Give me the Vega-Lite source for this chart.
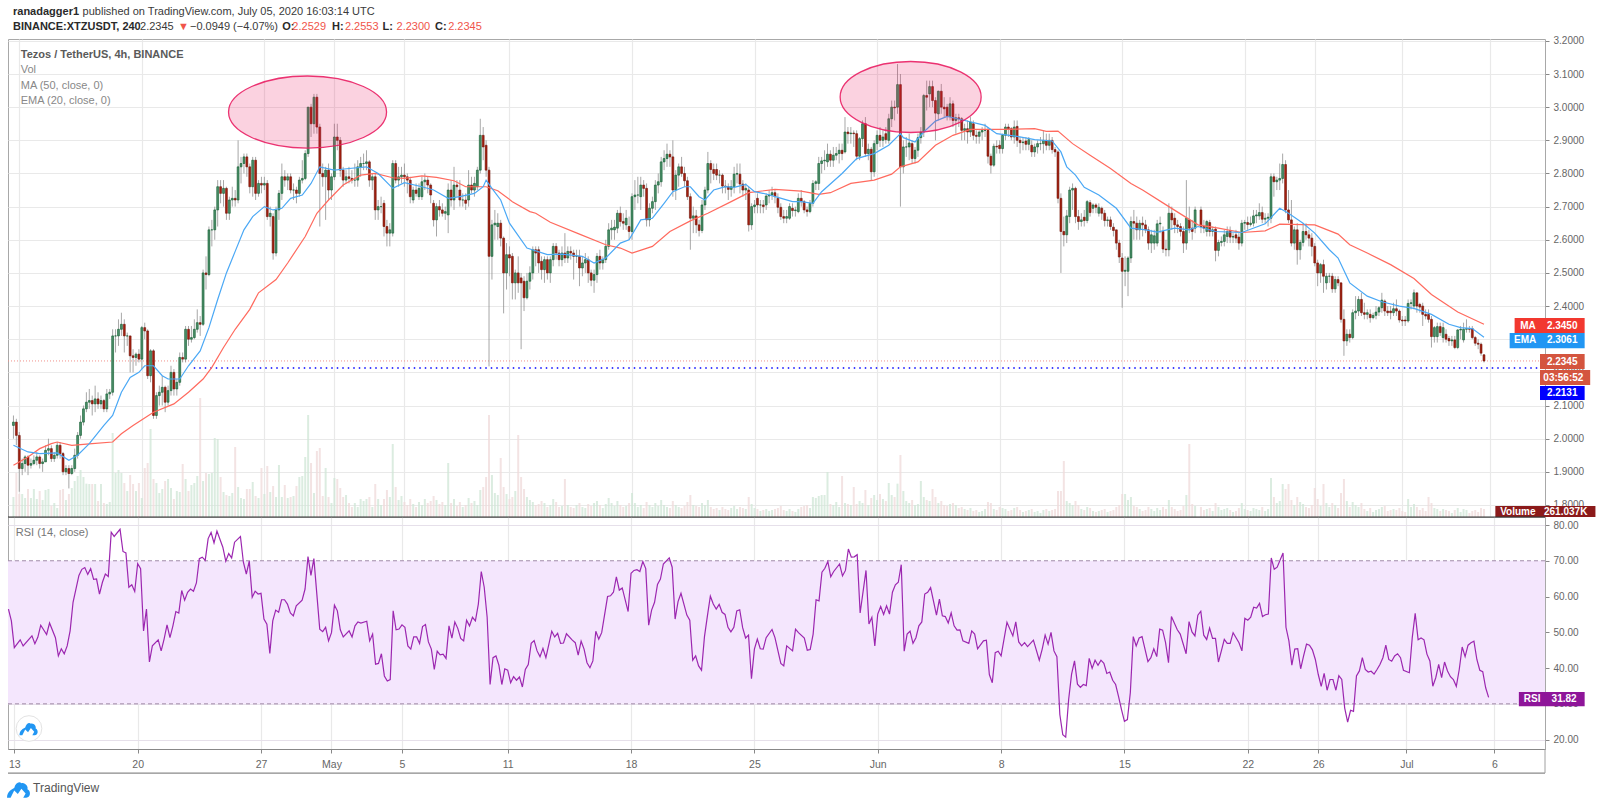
{"$schema":"https://vega.github.io/schema/vega-lite/v6.json","background":"white","padding":{"left":5,"top":5,"right":0,"bottom":0},"bounds":"flush","spacing":0,"config":{"font":"Liberation Sans","view":{"stroke":"#a8a8a8"}},
"datasets":{
"c":[
{"n":-2,"o":2.04,"h":2.07,"l":2.0,"c":2.05,"v":600},{"n":-1,"o":2.05,"h":2.06,"l":1.98,"c":2.01,"v":1320},{"n":0,"o":2.01,"h":2.02,"l":1.84,"c":1.91,"v":690},{"n":1,"o":1.91,"h":1.94,"l":1.89,"c":1.925,"v":690},{"n":2,"o":1.925,"h":1.95,"l":1.9,"c":1.945,"v":570},{"n":3,"o":1.945,"h":1.95,"l":1.89,"c":1.92,"v":840},{"n":4,"o":1.92,"h":1.94,"l":1.91,"c":1.925,"v":570},{"n":5,"o":1.925,"h":1.95,"l":1.92,"c":1.935,"v":840},{"n":6,"o":1.935,"h":1.96,"l":1.92,"c":1.945,"v":540},{"n":7,"o":1.945,"h":1.95,"l":1.91,"c":1.925,"v":780},{"n":8,"o":1.925,"h":1.94,"l":1.9,"c":1.93,"v":510},{"n":9,"o":1.93,"h":1.98,"l":1.93,"c":1.965,"v":810},{"n":10,"o":1.965,"h":2.0,"l":1.95,"c":1.97,"v":840},{"n":11,"o":1.97,"h":1.98,"l":1.93,"c":1.94,"v":330},{"n":12,"o":1.94,"h":1.96,"l":1.93,"c":1.95,"v":420},{"n":13,"o":1.95,"h":1.99,"l":1.94,"c":1.98,"v":270},{"n":14,"o":1.98,"h":1.99,"l":1.94,"c":1.955,"v":810},{"n":15,"o":1.955,"h":1.96,"l":1.89,"c":1.9,"v":840},{"n":16,"o":1.9,"h":1.92,"l":1.89,"c":1.91,"v":510},{"n":17,"o":1.91,"h":1.92,"l":1.85,"c":1.895,"v":690},{"n":18,"o":1.895,"h":1.92,"l":1.89,"c":1.91,"v":870},{"n":19,"o":1.91,"h":1.97,"l":1.9,"c":1.95,"v":1080},{"n":20,"o":1.95,"h":2.02,"l":1.94,"c":2.01,"v":1230},{"n":21,"o":2.01,"h":2.07,"l":2.0,"c":2.05,"v":1410},{"n":22,"o":2.05,"h":2.1,"l":2.04,"c":2.09,"v":1200},{"n":23,"o":2.09,"h":2.14,"l":2.08,"c":2.11,"v":1000},{"n":24,"o":2.11,"h":2.15,"l":2.09,"c":2.115,"v":990},{"n":25,"o":2.115,"h":2.13,"l":2.07,"c":2.105,"v":990},{"n":26,"o":2.105,"h":2.16,"l":2.08,"c":2.12,"v":990},{"n":27,"o":2.12,"h":2.14,"l":2.09,"c":2.105,"v":480},{"n":28,"o":2.105,"h":2.13,"l":2.09,"c":2.115,"v":990},{"n":29,"o":2.115,"h":2.12,"l":2.08,"c":2.09,"v":420},{"n":30,"o":2.09,"h":2.15,"l":2.08,"c":2.135,"v":390},{"n":31,"o":2.135,"h":2.15,"l":2.12,"c":2.14,"v":450},{"n":32,"o":2.14,"h":2.33,"l":2.13,"c":2.31,"v":2520},{"n":33,"o":2.31,"h":2.33,"l":2.26,"c":2.31,"v":1320},{"n":34,"o":2.31,"h":2.36,"l":2.28,"c":2.33,"v":1410},{"n":35,"o":2.33,"h":2.38,"l":2.31,"c":2.345,"v":1320},{"n":36,"o":2.345,"h":2.36,"l":2.26,"c":2.31,"v":1020},{"n":37,"o":2.31,"h":2.32,"l":2.28,"c":2.31,"v":780},{"n":38,"o":2.31,"h":2.31,"l":2.2,"c":2.25,"v":1260},{"n":39,"o":2.25,"h":2.27,"l":2.2,"c":2.245,"v":990},{"n":40,"o":2.245,"h":2.26,"l":2.22,"c":2.255,"v":780},{"n":41,"o":2.255,"h":2.27,"l":2.23,"c":2.24,"v":1020},{"n":42,"o":2.24,"h":2.34,"l":2.21,"c":2.335,"v":570},{"n":43,"o":2.335,"h":2.35,"l":2.3,"c":2.325,"v":1470},{"n":44,"o":2.325,"h":2.33,"l":2.18,"c":2.19,"v":1620},{"n":45,"o":2.19,"h":2.27,"l":2.17,"c":2.265,"v":2640},{"n":46,"o":2.265,"h":2.27,"l":2.06,"c":2.07,"v":1140},{"n":47,"o":2.07,"h":2.14,"l":2.06,"c":2.13,"v":1020},{"n":48,"o":2.13,"h":2.16,"l":2.1,"c":2.14,"v":720},{"n":49,"o":2.14,"h":2.19,"l":2.1,"c":2.155,"v":840},{"n":50,"o":2.155,"h":2.16,"l":2.08,"c":2.11,"v":1080},{"n":51,"o":2.11,"h":2.16,"l":2.1,"c":2.145,"v":1140},{"n":52,"o":2.145,"h":2.22,"l":2.13,"c":2.2,"v":870},{"n":53,"o":2.2,"h":2.21,"l":2.13,"c":2.15,"v":540},{"n":54,"o":2.15,"h":2.18,"l":2.13,"c":2.17,"v":780},{"n":55,"o":2.17,"h":2.26,"l":2.16,"c":2.245,"v":750},{"n":56,"o":2.245,"h":2.26,"l":2.23,"c":2.24,"v":1590},{"n":57,"o":2.24,"h":2.34,"l":2.23,"c":2.33,"v":1140},{"n":58,"o":2.33,"h":2.34,"l":2.28,"c":2.3,"v":780},{"n":59,"o":2.3,"h":2.34,"l":2.29,"c":2.305,"v":960},{"n":60,"o":2.305,"h":2.36,"l":2.3,"c":2.33,"v":1020},{"n":61,"o":2.33,"h":2.39,"l":2.32,"c":2.35,"v":1230},{"n":62,"o":2.35,"h":2.37,"l":2.31,"c":2.345,"v":3570},{"n":63,"o":2.345,"h":2.51,"l":2.34,"c":2.5,"v":1080},{"n":64,"o":2.5,"h":2.55,"l":2.45,"c":2.495,"v":1320},{"n":65,"o":2.495,"h":2.64,"l":2.49,"c":2.63,"v":1290},{"n":66,"o":2.63,"h":2.66,"l":2.58,"c":2.63,"v":1320},{"n":67,"o":2.63,"h":2.7,"l":2.6,"c":2.69,"v":2370},{"n":68,"o":2.69,"h":2.78,"l":2.64,"c":2.76,"v":2340},{"n":69,"o":2.76,"h":2.78,"l":2.71,"c":2.74,"v":1200},{"n":70,"o":2.74,"h":2.78,"l":2.7,"c":2.755,"v":750},{"n":71,"o":2.755,"h":2.76,"l":2.66,"c":2.68,"v":660},{"n":72,"o":2.68,"h":2.73,"l":2.66,"c":2.72,"v":630},{"n":73,"o":2.72,"h":2.76,"l":2.7,"c":2.725,"v":720},{"n":74,"o":2.725,"h":2.75,"l":2.7,"c":2.72,"v":2100},{"n":75,"o":2.72,"h":2.9,"l":2.71,"c":2.82,"v":900},{"n":76,"o":2.82,"h":2.85,"l":2.77,"c":2.83,"v":570},{"n":77,"o":2.83,"h":2.86,"l":2.8,"c":2.85,"v":540},{"n":78,"o":2.85,"h":2.86,"l":2.79,"c":2.82,"v":840},{"n":79,"o":2.82,"h":2.83,"l":2.74,"c":2.76,"v":840},{"n":80,"o":2.76,"h":2.85,"l":2.73,"c":2.84,"v":1050},{"n":81,"o":2.84,"h":2.85,"l":2.72,"c":2.74,"v":630},{"n":82,"o":2.74,"h":2.78,"l":2.73,"c":2.77,"v":570},{"n":83,"o":2.77,"h":2.79,"l":2.74,"c":2.765,"v":1470},{"n":84,"o":2.765,"h":2.79,"l":2.75,"c":2.77,"v":690},{"n":85,"o":2.77,"h":2.78,"l":2.66,"c":2.67,"v":1530},{"n":86,"o":2.67,"h":2.7,"l":2.64,"c":2.68,"v":750},{"n":87,"o":2.67,"h":2.68,"l":2.54,"c":2.56,"v":930},{"n":88,"o":2.56,"h":2.7,"l":2.55,"c":2.69,"v":600},{"n":89,"o":2.69,"h":2.75,"l":2.66,"c":2.74,"v":1560},{"n":90,"o":2.74,"h":2.83,"l":2.72,"c":2.79,"v":600},{"n":91,"o":2.79,"h":2.81,"l":2.76,"c":2.78,"v":960},{"n":92,"o":2.78,"h":2.8,"l":2.75,"c":2.79,"v":570},{"n":93,"o":2.79,"h":2.8,"l":2.74,"c":2.75,"v":600},{"n":94,"o":2.75,"h":2.77,"l":2.72,"c":2.75,"v":630},{"n":95,"o":2.75,"h":2.76,"l":2.71,"c":2.74,"v":930},{"n":96,"o":2.74,"h":2.79,"l":2.73,"c":2.78,"v":1200},{"n":97,"o":2.78,"h":2.84,"l":2.77,"c":2.785,"v":1230},{"n":98,"o":2.785,"h":2.87,"l":2.78,"c":2.86,"v":1800},{"n":99,"o":2.86,"h":3.0,"l":2.85,"c":3.0,"v":3060},{"n":100,"o":3.0,"h":3.01,"l":2.91,"c":2.95,"v":1620},{"n":101,"o":2.95,"h":3.04,"l":2.92,"c":3.03,"v":720},{"n":102,"o":3.03,"h":3.04,"l":2.92,"c":2.94,"v":1980},{"n":103,"o":2.94,"h":2.95,"l":2.64,"c":2.8,"v":2070},{"n":104,"o":2.8,"h":2.83,"l":2.76,"c":2.79,"v":630},{"n":105,"o":2.79,"h":2.82,"l":2.66,"c":2.81,"v":1470},{"n":106,"o":2.81,"h":2.83,"l":2.72,"c":2.75,"v":600},{"n":107,"o":2.75,"h":2.8,"l":2.72,"c":2.79,"v":420},{"n":108,"o":2.79,"h":2.95,"l":2.78,"c":2.91,"v":1170},{"n":109,"o":2.91,"h":2.95,"l":2.87,"c":2.9,"v":1140},{"n":110,"o":2.9,"h":2.91,"l":2.79,"c":2.81,"v":870},{"n":111,"o":2.81,"h":2.82,"l":2.76,"c":2.78,"v":600},{"n":112,"o":2.78,"h":2.81,"l":2.77,"c":2.79,"v":660},{"n":113,"o":2.79,"h":2.82,"l":2.77,"c":2.785,"v":420},{"n":114,"o":2.785,"h":2.81,"l":2.77,"c":2.78,"v":300},{"n":115,"o":2.78,"h":2.83,"l":2.76,"c":2.78,"v":420},{"n":116,"o":2.78,"h":2.84,"l":2.76,"c":2.82,"v":300},{"n":117,"o":2.82,"h":2.85,"l":2.79,"c":2.83,"v":540},{"n":118,"o":2.83,"h":2.86,"l":2.81,"c":2.83,"v":480},{"n":119,"o":2.83,"h":2.87,"l":2.81,"c":2.835,"v":540},{"n":120,"o":2.835,"h":2.84,"l":2.76,"c":2.78,"v":600},{"n":121,"o":2.78,"h":2.8,"l":2.75,"c":2.79,"v":300},{"n":122,"o":2.79,"h":2.8,"l":2.66,"c":2.69,"v":990},{"n":123,"o":2.69,"h":2.72,"l":2.66,"c":2.7,"v":540},{"n":124,"o":2.7,"h":2.73,"l":2.68,"c":2.7,"v":360},{"n":125,"o":2.71,"h":2.72,"l":2.61,"c":2.64,"v":540},{"n":126,"o":2.64,"h":2.66,"l":2.58,"c":2.62,"v":810},{"n":127,"o":2.62,"h":2.65,"l":2.58,"c":2.63,"v":600},{"n":128,"o":2.62,"h":2.84,"l":2.61,"c":2.83,"v":2190},{"n":129,"o":2.83,"h":2.84,"l":2.77,"c":2.78,"v":900},{"n":130,"o":2.78,"h":2.82,"l":2.76,"c":2.79,"v":510},{"n":131,"o":2.79,"h":2.82,"l":2.77,"c":2.795,"v":630},{"n":132,"o":2.795,"h":2.83,"l":2.76,"c":2.79,"v":450},{"n":133,"o":2.79,"h":2.8,"l":2.74,"c":2.78,"v":360},{"n":134,"o":2.78,"h":2.79,"l":2.71,"c":2.73,"v":540},{"n":135,"o":2.72,"h":2.76,"l":2.71,"c":2.75,"v":390},{"n":136,"o":2.75,"h":2.77,"l":2.73,"c":2.74,"v":300},{"n":137,"o":2.73,"h":2.77,"l":2.72,"c":2.755,"v":450},{"n":138,"o":2.73,"h":2.79,"l":2.72,"c":2.775,"v":360},{"n":139,"o":2.775,"h":2.8,"l":2.75,"c":2.78,"v":540},{"n":140,"o":2.78,"h":2.79,"l":2.74,"c":2.765,"v":420},{"n":141,"o":2.765,"h":2.77,"l":2.71,"c":2.735,"v":480},{"n":142,"o":2.71,"h":2.72,"l":2.64,"c":2.66,"v":630},{"n":143,"o":2.66,"h":2.71,"l":2.61,"c":2.7,"v":510},{"n":144,"o":2.7,"h":2.72,"l":2.67,"c":2.69,"v":390},{"n":145,"o":2.69,"h":2.71,"l":2.67,"c":2.68,"v":450},{"n":146,"o":2.68,"h":2.7,"l":2.66,"c":2.685,"v":360},{"n":147,"o":2.675,"h":2.77,"l":2.62,"c":2.75,"v":1620},{"n":148,"o":2.75,"h":2.78,"l":2.7,"c":2.72,"v":420},{"n":149,"o":2.72,"h":2.82,"l":2.69,"c":2.765,"v":540},{"n":150,"o":2.765,"h":2.78,"l":2.73,"c":2.76,"v":330},{"n":151,"o":2.75,"h":2.78,"l":2.7,"c":2.72,"v":450},{"n":152,"o":2.72,"h":2.74,"l":2.7,"c":2.72,"v":300},{"n":153,"o":2.72,"h":2.74,"l":2.69,"c":2.71,"v":360},{"n":154,"o":2.72,"h":2.81,"l":2.7,"c":2.765,"v":570},{"n":155,"o":2.765,"h":2.79,"l":2.74,"c":2.75,"v":420},{"n":156,"o":2.75,"h":2.79,"l":2.73,"c":2.77,"v":480},{"n":157,"o":2.76,"h":2.82,"l":2.75,"c":2.81,"v":360},{"n":158,"o":2.81,"h":2.965,"l":2.8,"c":2.915,"v":810},{"n":159,"o":2.915,"h":2.94,"l":2.84,"c":2.88,"v":900},{"n":160,"o":2.885,"h":2.9,"l":2.79,"c":2.81,"v":1200},{"n":161,"o":2.81,"h":2.82,"l":2.218,"c":2.55,"v":3060},{"n":162,"o":2.55,"h":2.66,"l":2.48,"c":2.645,"v":1260},{"n":163,"o":2.645,"h":2.69,"l":2.6,"c":2.65,"v":720},{"n":164,"o":2.64,"h":2.68,"l":2.6,"c":2.65,"v":660},{"n":165,"o":2.65,"h":2.66,"l":2.58,"c":2.605,"v":1770},{"n":166,"o":2.605,"h":2.61,"l":2.378,"c":2.5,"v":900},{"n":167,"o":2.5,"h":2.59,"l":2.45,"c":2.555,"v":690},{"n":168,"o":2.555,"h":2.58,"l":2.49,"c":2.545,"v":540},{"n":169,"o":2.55,"h":2.56,"l":2.42,"c":2.47,"v":600},{"n":170,"o":2.47,"h":2.51,"l":2.42,"c":2.5,"v":780},{"n":171,"o":2.5,"h":2.55,"l":2.44,"c":2.47,"v":2460},{"n":172,"o":2.485,"h":2.5,"l":2.27,"c":2.47,"v":1200},{"n":173,"o":2.475,"h":2.49,"l":2.385,"c":2.425,"v":840},{"n":174,"o":2.425,"h":2.5,"l":2.42,"c":2.475,"v":600},{"n":175,"o":2.475,"h":2.52,"l":2.45,"c":2.5,"v":510},{"n":176,"o":2.5,"h":2.58,"l":2.48,"c":2.57,"v":450},{"n":177,"o":2.57,"h":2.58,"l":2.52,"c":2.56,"v":360},{"n":178,"o":2.57,"h":2.58,"l":2.5,"c":2.53,"v":390},{"n":179,"o":2.535,"h":2.55,"l":2.48,"c":2.51,"v":480},{"n":180,"o":2.51,"h":2.55,"l":2.47,"c":2.54,"v":420},{"n":181,"o":2.54,"h":2.55,"l":2.48,"c":2.5,"v":300},{"n":182,"o":2.5,"h":2.55,"l":2.47,"c":2.54,"v":360},{"n":183,"o":2.54,"h":2.59,"l":2.52,"c":2.58,"v":540},{"n":184,"o":2.58,"h":2.59,"l":2.54,"c":2.56,"v":450},{"n":185,"o":2.56,"h":2.57,"l":2.52,"c":2.54,"v":300},{"n":186,"o":2.54,"h":2.58,"l":2.52,"c":2.56,"v":330},{"n":187,"o":2.56,"h":2.62,"l":2.53,"c":2.545,"v":1140},{"n":188,"o":2.545,"h":2.58,"l":2.53,"c":2.565,"v":360},{"n":189,"o":2.565,"h":2.58,"l":2.54,"c":2.56,"v":300},{"n":190,"o":2.56,"h":2.57,"l":2.48,"c":2.55,"v":270},{"n":191,"o":2.55,"h":2.57,"l":2.53,"c":2.55,"v":360},{"n":192,"o":2.55,"h":2.57,"l":2.46,"c":2.515,"v":420},{"n":193,"o":2.515,"h":2.55,"l":2.49,"c":2.53,"v":300},{"n":194,"o":2.53,"h":2.56,"l":2.5,"c":2.54,"v":270},{"n":195,"o":2.54,"h":2.55,"l":2.47,"c":2.5,"v":390},{"n":196,"o":2.5,"h":2.51,"l":2.46,"c":2.478,"v":330},{"n":197,"o":2.478,"h":2.51,"l":2.44,"c":2.495,"v":420},{"n":198,"o":2.495,"h":2.56,"l":2.47,"c":2.55,"v":480},{"n":199,"o":2.55,"h":2.57,"l":2.51,"c":2.53,"v":360},{"n":200,"o":2.53,"h":2.55,"l":2.51,"c":2.54,"v":270},{"n":201,"o":2.54,"h":2.6,"l":2.53,"c":2.58,"v":390},{"n":202,"o":2.58,"h":2.65,"l":2.57,"c":2.63,"v":570},{"n":203,"o":2.63,"h":2.66,"l":2.6,"c":2.635,"v":420},{"n":204,"o":2.63,"h":2.66,"l":2.6,"c":2.638,"v":330},{"n":205,"o":2.635,"h":2.69,"l":2.62,"c":2.68,"v":480},{"n":206,"o":2.68,"h":2.7,"l":2.64,"c":2.655,"v":360},{"n":207,"o":2.655,"h":2.68,"l":2.63,"c":2.65,"v":300},{"n":208,"o":2.645,"h":2.69,"l":2.63,"c":2.665,"v":330},{"n":209,"o":2.64,"h":2.67,"l":2.6,"c":2.625,"v":420},{"n":210,"o":2.625,"h":2.74,"l":2.6,"c":2.73,"v":720},{"n":211,"o":2.73,"h":2.78,"l":2.69,"c":2.735,"v":420},{"n":212,"o":2.735,"h":2.79,"l":2.71,"c":2.735,"v":300},{"n":213,"o":2.73,"h":2.79,"l":2.69,"c":2.765,"v":360},{"n":214,"o":2.765,"h":2.78,"l":2.73,"c":2.755,"v":270},{"n":215,"o":2.755,"h":2.77,"l":2.64,"c":2.66,"v":450},{"n":216,"o":2.66,"h":2.71,"l":2.64,"c":2.695,"v":360},{"n":217,"o":2.695,"h":2.73,"l":2.68,"c":2.715,"v":300},{"n":218,"o":2.715,"h":2.78,"l":2.69,"c":2.765,"v":420},{"n":219,"o":2.765,"h":2.8,"l":2.74,"c":2.775,"v":330},{"n":220,"o":2.775,"h":2.85,"l":2.76,"c":2.835,"v":510},{"n":221,"o":2.835,"h":2.87,"l":2.81,"c":2.845,"v":360},{"n":222,"o":2.845,"h":2.89,"l":2.82,"c":2.858,"v":300},{"n":223,"o":2.858,"h":2.87,"l":2.82,"c":2.85,"v":270},{"n":224,"o":2.85,"h":2.9,"l":2.73,"c":2.75,"v":480},{"n":225,"o":2.75,"h":2.81,"l":2.72,"c":2.795,"v":360},{"n":226,"o":2.795,"h":2.83,"l":2.76,"c":2.82,"v":300},{"n":227,"o":2.82,"h":2.85,"l":2.79,"c":2.8,"v":270},{"n":228,"o":2.8,"h":2.82,"l":2.76,"c":2.778,"v":330},{"n":229,"o":2.778,"h":2.79,"l":2.72,"c":2.73,"v":450},{"n":230,"o":2.73,"h":2.74,"l":2.57,"c":2.665,"v":660},{"n":231,"o":2.665,"h":2.7,"l":2.62,"c":2.672,"v":360},{"n":232,"o":2.672,"h":2.69,"l":2.62,"c":2.645,"v":330},{"n":233,"o":2.645,"h":2.66,"l":2.61,"c":2.628,"v":300},{"n":234,"o":2.628,"h":2.72,"l":2.62,"c":2.705,"v":420},{"n":235,"o":2.705,"h":2.76,"l":2.69,"c":2.75,"v":360},{"n":236,"o":2.75,"h":2.865,"l":2.74,"c":2.83,"v":510},{"n":237,"o":2.83,"h":2.84,"l":2.77,"c":2.812,"v":300},{"n":238,"o":2.812,"h":2.83,"l":2.78,"c":2.8,"v":240},{"n":239,"o":2.812,"h":2.83,"l":2.78,"c":2.795,"v":270},{"n":240,"o":2.795,"h":2.81,"l":2.77,"c":2.795,"v":210},{"n":241,"o":2.795,"h":2.8,"l":2.74,"c":2.762,"v":300},{"n":242,"o":2.762,"h":2.78,"l":2.74,"c":2.76,"v":240},{"n":243,"o":2.76,"h":2.77,"l":2.72,"c":2.752,"v":210},{"n":244,"o":2.752,"h":2.78,"l":2.73,"c":2.76,"v":270},{"n":245,"o":2.76,"h":2.82,"l":2.74,"c":2.798,"v":330},{"n":246,"o":2.798,"h":2.83,"l":2.77,"c":2.8,"v":240},{"n":247,"o":2.798,"h":2.83,"l":2.74,"c":2.768,"v":300},{"n":248,"o":2.768,"h":2.78,"l":2.73,"c":2.75,"v":270},{"n":249,"o":2.75,"h":2.77,"l":2.72,"c":2.755,"v":240},{"n":250,"o":2.75,"h":2.76,"l":2.625,"c":2.645,"v":600},{"n":251,"o":2.645,"h":2.71,"l":2.63,"c":2.7,"v":390},{"n":252,"o":2.7,"h":2.72,"l":2.68,"c":2.705,"v":270},{"n":253,"o":2.725,"h":2.74,"l":2.68,"c":2.705,"v":240},{"n":254,"o":2.705,"h":2.72,"l":2.68,"c":2.705,"v":180},{"n":255,"o":2.705,"h":2.72,"l":2.68,"c":2.7,"v":210},{"n":256,"o":2.705,"h":2.74,"l":2.69,"c":2.732,"v":240},{"n":257,"o":2.732,"h":2.75,"l":2.71,"c":2.735,"v":180},{"n":258,"o":2.735,"h":2.76,"l":2.72,"c":2.742,"v":210},{"n":259,"o":2.742,"h":2.75,"l":2.71,"c":2.73,"v":240},{"n":260,"o":2.725,"h":2.74,"l":2.68,"c":2.698,"v":270},{"n":261,"o":2.698,"h":2.71,"l":2.66,"c":2.67,"v":330},{"n":262,"o":2.67,"h":2.69,"l":2.65,"c":2.665,"v":210},{"n":263,"o":2.665,"h":2.69,"l":2.65,"c":2.67,"v":180},{"n":264,"o":2.665,"h":2.71,"l":2.66,"c":2.7,"v":240},{"n":265,"o":2.695,"h":2.71,"l":2.67,"c":2.688,"v":180},{"n":266,"o":2.688,"h":2.7,"l":2.67,"c":2.69,"v":150},{"n":267,"o":2.685,"h":2.74,"l":2.68,"c":2.725,"v":240},{"n":268,"o":2.725,"h":2.75,"l":2.7,"c":2.715,"v":300},{"n":269,"o":2.715,"h":2.72,"l":2.68,"c":2.69,"v":330},{"n":270,"o":2.69,"h":2.7,"l":2.67,"c":2.685,"v":360},{"n":271,"o":2.685,"h":2.72,"l":2.68,"c":2.71,"v":270},{"n":272,"o":2.71,"h":2.78,"l":2.7,"c":2.77,"v":600},{"n":273,"o":2.77,"h":2.78,"l":2.75,"c":2.775,"v":570},{"n":274,"o":2.77,"h":2.85,"l":2.75,"c":2.83,"v":630},{"n":275,"o":2.83,"h":2.85,"l":2.8,"c":2.838,"v":660},{"n":276,"o":2.838,"h":2.87,"l":2.81,"c":2.84,"v":660},{"n":277,"o":2.835,"h":2.89,"l":2.82,"c":2.858,"v":1350},{"n":278,"o":2.858,"h":2.87,"l":2.82,"c":2.84,"v":390},{"n":279,"o":2.84,"h":2.88,"l":2.82,"c":2.855,"v":360},{"n":280,"o":2.855,"h":2.88,"l":2.84,"c":2.86,"v":450},{"n":281,"o":2.86,"h":2.89,"l":2.83,"c":2.87,"v":300},{"n":282,"o":2.87,"h":2.89,"l":2.84,"c":2.86,"v":1230},{"n":283,"o":2.865,"h":2.97,"l":2.86,"c":2.925,"v":420},{"n":284,"o":2.925,"h":2.94,"l":2.89,"c":2.92,"v":390},{"n":285,"o":2.92,"h":2.94,"l":2.89,"c":2.922,"v":360},{"n":286,"o":2.922,"h":2.93,"l":2.88,"c":2.92,"v":900},{"n":287,"o":2.92,"h":2.93,"l":2.84,"c":2.852,"v":390},{"n":288,"o":2.852,"h":2.91,"l":2.84,"c":2.905,"v":480},{"n":289,"o":2.905,"h":2.96,"l":2.88,"c":2.95,"v":420},{"n":290,"o":2.95,"h":2.97,"l":2.85,"c":2.86,"v":810},{"n":291,"o":2.86,"h":2.89,"l":2.84,"c":2.873,"v":360},{"n":292,"o":2.873,"h":2.88,"l":2.78,"c":2.805,"v":570},{"n":293,"o":2.805,"h":2.9,"l":2.79,"c":2.89,"v":660},{"n":294,"o":2.89,"h":2.93,"l":2.87,"c":2.915,"v":510},{"n":295,"o":2.915,"h":2.94,"l":2.88,"c":2.9,"v":690},{"n":296,"o":2.9,"h":2.93,"l":2.88,"c":2.91,"v":540},{"n":297,"o":2.92,"h":2.94,"l":2.89,"c":2.902,"v":480},{"n":298,"o":2.9,"h":2.98,"l":2.89,"c":2.965,"v":1020},{"n":299,"o":2.965,"h":3.02,"l":2.94,"c":3.0,"v":660},{"n":300,"o":3.0,"h":3.02,"l":2.96,"c":2.998,"v":600},{"n":301,"o":3.0,"h":3.13,"l":2.98,"c":3.068,"v":1000},{"n":302,"o":3.068,"h":3.1,"l":2.7,"c":2.82,"v":1860},{"n":303,"o":2.82,"h":2.9,"l":2.8,"c":2.88,"v":780},{"n":304,"o":2.88,"h":2.91,"l":2.85,"c":2.88,"v":480},{"n":305,"o":2.88,"h":2.92,"l":2.84,"c":2.892,"v":420},{"n":306,"o":2.89,"h":2.9,"l":2.83,"c":2.845,"v":510},{"n":307,"o":2.845,"h":2.88,"l":2.83,"c":2.87,"v":360},{"n":308,"o":2.87,"h":2.92,"l":2.85,"c":2.908,"v":390},{"n":309,"o":2.908,"h":2.94,"l":2.89,"c":2.925,"v":1080},{"n":310,"o":2.925,"h":3.04,"l":2.91,"c":3.035,"v":600},{"n":311,"o":3.035,"h":3.08,"l":2.99,"c":3.03,"v":510},{"n":312,"o":3.04,"h":3.08,"l":3.0,"c":3.062,"v":480},{"n":313,"o":3.062,"h":3.08,"l":3.0,"c":3.02,"v":840},{"n":314,"o":3.02,"h":3.03,"l":2.9,"c":2.982,"v":600},{"n":315,"o":2.98,"h":3.05,"l":2.96,"c":3.048,"v":420},{"n":316,"o":3.048,"h":3.07,"l":2.98,"c":3.0,"v":480},{"n":317,"o":3.0,"h":3.03,"l":2.97,"c":2.995,"v":360},{"n":318,"o":3.0,"h":3.01,"l":2.96,"c":2.972,"v":330},{"n":319,"o":2.972,"h":3.03,"l":2.96,"c":3.01,"v":390},{"n":320,"o":3.01,"h":3.02,"l":2.94,"c":2.96,"v":420},{"n":321,"o":2.96,"h":2.98,"l":2.92,"c":2.968,"v":360},{"n":322,"o":2.968,"h":2.98,"l":2.94,"c":2.965,"v":270},{"n":323,"o":2.965,"h":2.97,"l":2.9,"c":2.93,"v":300},{"n":324,"o":2.93,"h":2.95,"l":2.9,"c":2.935,"v":240},{"n":325,"o":2.935,"h":2.96,"l":2.89,"c":2.925,"v":210},{"n":326,"o":2.925,"h":2.97,"l":2.91,"c":2.955,"v":270},{"n":327,"o":2.95,"h":2.96,"l":2.9,"c":2.915,"v":180},{"n":328,"o":2.915,"h":2.93,"l":2.89,"c":2.912,"v":210},{"n":329,"o":2.912,"h":2.93,"l":2.89,"c":2.925,"v":150},{"n":330,"o":2.925,"h":2.94,"l":2.9,"c":2.93,"v":180},{"n":331,"o":2.93,"h":2.95,"l":2.91,"c":2.93,"v":240},{"n":332,"o":2.93,"h":2.94,"l":2.83,"c":2.852,"v":450},{"n":333,"o":2.852,"h":2.86,"l":2.8,"c":2.825,"v":420},{"n":334,"o":2.825,"h":2.89,"l":2.82,"c":2.882,"v":240},{"n":335,"o":2.882,"h":2.9,"l":2.86,"c":2.88,"v":210},{"n":336,"o":2.885,"h":2.9,"l":2.86,"c":2.875,"v":300},{"n":337,"o":2.875,"h":2.92,"l":2.86,"c":2.915,"v":270},{"n":338,"o":2.915,"h":2.95,"l":2.9,"c":2.94,"v":240},{"n":339,"o":2.94,"h":2.95,"l":2.91,"c":2.935,"v":180},{"n":340,"o":2.935,"h":2.94,"l":2.9,"c":2.91,"v":210},{"n":341,"o":2.91,"h":2.96,"l":2.89,"c":2.94,"v":270},{"n":342,"o":2.942,"h":2.96,"l":2.88,"c":2.9,"v":300},{"n":343,"o":2.9,"h":2.91,"l":2.86,"c":2.893,"v":210},{"n":344,"o":2.893,"h":2.91,"l":2.87,"c":2.895,"v":150},{"n":345,"o":2.898,"h":2.91,"l":2.87,"c":2.888,"v":180},{"n":346,"o":2.888,"h":2.91,"l":2.87,"c":2.902,"v":210},{"n":347,"o":2.885,"h":2.9,"l":2.85,"c":2.865,"v":240},{"n":348,"o":2.865,"h":2.89,"l":2.85,"c":2.88,"v":150},{"n":349,"o":2.88,"h":2.9,"l":2.86,"c":2.89,"v":180},{"n":350,"o":2.89,"h":2.91,"l":2.87,"c":2.89,"v":120},{"n":351,"o":2.89,"h":2.93,"l":2.86,"c":2.9,"v":210},{"n":352,"o":2.9,"h":2.92,"l":2.87,"c":2.885,"v":240},{"n":353,"o":2.885,"h":2.92,"l":2.87,"c":2.9,"v":180},{"n":354,"o":2.9,"h":2.91,"l":2.86,"c":2.872,"v":210},{"n":355,"o":2.872,"h":2.88,"l":2.85,"c":2.865,"v":240},{"n":356,"o":2.865,"h":2.87,"l":2.71,"c":2.725,"v":780},{"n":357,"o":2.725,"h":2.74,"l":2.5,"c":2.625,"v":780},{"n":358,"o":2.625,"h":2.67,"l":2.58,"c":2.615,"v":1680},{"n":359,"o":2.615,"h":2.69,"l":2.59,"c":2.672,"v":480},{"n":360,"o":2.67,"h":2.76,"l":2.65,"c":2.75,"v":420},{"n":361,"o":2.75,"h":2.77,"l":2.69,"c":2.755,"v":360},{"n":362,"o":2.755,"h":2.76,"l":2.65,"c":2.67,"v":480},{"n":363,"o":2.67,"h":2.69,"l":2.63,"c":2.655,"v":360},{"n":364,"o":2.655,"h":2.68,"l":2.64,"c":2.66,"v":240},{"n":365,"o":2.668,"h":2.69,"l":2.64,"c":2.658,"v":210},{"n":366,"o":2.658,"h":2.72,"l":2.65,"c":2.715,"v":300},{"n":367,"o":2.712,"h":2.72,"l":2.67,"c":2.682,"v":270},{"n":368,"o":2.695,"h":2.71,"l":2.68,"c":2.705,"v":180},{"n":369,"o":2.705,"h":2.71,"l":2.68,"c":2.698,"v":150},{"n":370,"o":2.68,"h":2.71,"l":2.67,"c":2.698,"v":180},{"n":371,"o":2.695,"h":2.7,"l":2.66,"c":2.68,"v":210},{"n":372,"o":2.68,"h":2.69,"l":2.64,"c":2.658,"v":240},{"n":373,"o":2.658,"h":2.67,"l":2.64,"c":2.66,"v":150},{"n":374,"o":2.66,"h":2.67,"l":2.63,"c":2.64,"v":180},{"n":375,"o":2.638,"h":2.65,"l":2.61,"c":2.628,"v":210},{"n":376,"o":2.63,"h":2.63,"l":2.57,"c":2.59,"v":300},{"n":377,"o":2.59,"h":2.6,"l":2.53,"c":2.548,"v":360},{"n":378,"o":2.545,"h":2.56,"l":2.395,"c":2.505,"v":690},{"n":379,"o":2.505,"h":2.55,"l":2.46,"c":2.508,"v":690},{"n":380,"o":2.505,"h":2.55,"l":2.43,"c":2.545,"v":510},{"n":381,"o":2.545,"h":2.67,"l":2.53,"c":2.655,"v":600},{"n":382,"o":2.655,"h":2.69,"l":2.6,"c":2.65,"v":330},{"n":383,"o":2.65,"h":2.67,"l":2.6,"c":2.63,"v":300},{"n":384,"o":2.63,"h":2.66,"l":2.6,"c":2.65,"v":240},{"n":385,"o":2.65,"h":2.67,"l":2.61,"c":2.645,"v":180},{"n":386,"o":2.645,"h":2.66,"l":2.62,"c":2.63,"v":210},{"n":387,"o":2.63,"h":2.64,"l":2.57,"c":2.59,"v":300},{"n":388,"o":2.59,"h":2.63,"l":2.56,"c":2.615,"v":240},{"n":389,"o":2.59,"h":2.63,"l":2.57,"c":2.612,"v":180},{"n":390,"o":2.59,"h":2.66,"l":2.58,"c":2.648,"v":270},{"n":391,"o":2.648,"h":2.67,"l":2.62,"c":2.65,"v":210},{"n":392,"o":2.625,"h":2.64,"l":2.56,"c":2.572,"v":300},{"n":393,"o":2.572,"h":2.6,"l":2.55,"c":2.57,"v":240},{"n":394,"o":2.57,"h":2.71,"l":2.55,"c":2.68,"v":510},{"n":395,"o":2.68,"h":2.7,"l":2.63,"c":2.66,"v":300},{"n":396,"o":2.665,"h":2.68,"l":2.62,"c":2.645,"v":240},{"n":397,"o":2.645,"h":2.66,"l":2.62,"c":2.64,"v":180},{"n":398,"o":2.64,"h":2.65,"l":2.61,"c":2.625,"v":210},{"n":399,"o":2.625,"h":2.64,"l":2.56,"c":2.59,"v":330},{"n":400,"o":2.59,"h":2.78,"l":2.57,"c":2.665,"v":660},{"n":401,"o":2.66,"h":2.7,"l":2.62,"c":2.635,"v":2190},{"n":402,"o":2.635,"h":2.66,"l":2.6,"c":2.625,"v":390},{"n":403,"o":2.635,"h":2.7,"l":2.62,"c":2.69,"v":330},{"n":405,"o":2.69,"h":2.7,"l":2.62,"c":2.64,"v":300},{"n":406,"o":2.64,"h":2.66,"l":2.62,"c":2.635,"v":210},{"n":407,"o":2.625,"h":2.66,"l":2.61,"c":2.655,"v":240},{"n":408,"o":2.652,"h":2.66,"l":2.61,"c":2.625,"v":270},{"n":409,"o":2.625,"h":2.64,"l":2.61,"c":2.63,"v":180},{"n":410,"o":2.632,"h":2.64,"l":2.535,"c":2.568,"v":420},{"n":411,"o":2.568,"h":2.6,"l":2.55,"c":2.592,"v":300},{"n":412,"o":2.592,"h":2.61,"l":2.58,"c":2.595,"v":210},{"n":413,"o":2.595,"h":2.63,"l":2.58,"c":2.615,"v":240},{"n":414,"o":2.61,"h":2.64,"l":2.59,"c":2.625,"v":270},{"n":415,"o":2.628,"h":2.64,"l":2.59,"c":2.608,"v":210},{"n":416,"o":2.608,"h":2.62,"l":2.59,"c":2.61,"v":150},{"n":417,"o":2.615,"h":2.63,"l":2.59,"c":2.605,"v":180},{"n":418,"o":2.608,"h":2.62,"l":2.57,"c":2.59,"v":270},{"n":419,"o":2.59,"h":2.66,"l":2.58,"c":2.65,"v":420},{"n":420,"o":2.65,"h":2.66,"l":2.63,"c":2.652,"v":240},{"n":421,"o":2.652,"h":2.67,"l":2.63,"c":2.646,"v":210},{"n":422,"o":2.646,"h":2.67,"l":2.64,"c":2.65,"v":180},{"n":423,"o":2.65,"h":2.69,"l":2.64,"c":2.672,"v":270},{"n":424,"o":2.672,"h":2.69,"l":2.65,"c":2.675,"v":240},{"n":425,"o":2.672,"h":2.71,"l":2.66,"c":2.682,"v":210},{"n":426,"o":2.682,"h":2.7,"l":2.65,"c":2.662,"v":300},{"n":427,"o":2.662,"h":2.68,"l":2.65,"c":2.665,"v":180},{"n":428,"o":2.665,"h":2.68,"l":2.64,"c":2.668,"v":240},{"n":429,"o":2.665,"h":2.8,"l":2.65,"c":2.79,"v":1170},{"n":430,"o":2.79,"h":2.8,"l":2.73,"c":2.775,"v":600},{"n":431,"o":2.775,"h":2.79,"l":2.75,"c":2.78,"v":420},{"n":432,"o":2.78,"h":2.83,"l":2.75,"c":2.785,"v":480},{"n":433,"o":2.785,"h":2.86,"l":2.77,"c":2.827,"v":990},{"n":434,"o":2.827,"h":2.84,"l":2.68,"c":2.69,"v":840},{"n":435,"o":2.69,"h":2.75,"l":2.65,"c":2.66,"v":990},{"n":436,"o":2.66,"h":2.72,"l":2.58,"c":2.59,"v":510},{"n":437,"o":2.59,"h":2.64,"l":2.57,"c":2.63,"v":360},{"n":438,"o":2.63,"h":2.65,"l":2.525,"c":2.57,"v":600},{"n":439,"o":2.57,"h":2.6,"l":2.54,"c":2.592,"v":450},{"n":440,"o":2.592,"h":2.65,"l":2.58,"c":2.625,"v":390},{"n":441,"o":2.625,"h":2.65,"l":2.6,"c":2.615,"v":300},{"n":442,"o":2.615,"h":2.63,"l":2.58,"c":2.605,"v":270},{"n":443,"o":2.605,"h":2.62,"l":2.55,"c":2.58,"v":360},{"n":444,"o":2.58,"h":2.59,"l":2.52,"c":2.53,"v":870},{"n":445,"o":2.53,"h":2.54,"l":2.46,"c":2.5,"v":540},{"n":446,"o":2.5,"h":2.53,"l":2.47,"c":2.525,"v":330},{"n":447,"o":2.525,"h":2.54,"l":2.44,"c":2.49,"v":990},{"n":448,"o":2.47,"h":2.5,"l":2.45,"c":2.49,"v":420},{"n":449,"o":2.49,"h":2.5,"l":2.47,"c":2.49,"v":300},{"n":450,"o":2.49,"h":2.5,"l":2.44,"c":2.452,"v":420},{"n":451,"o":2.452,"h":2.49,"l":2.44,"c":2.48,"v":360},{"n":452,"o":2.48,"h":2.49,"l":2.46,"c":2.47,"v":270},{"n":453,"o":2.47,"h":2.47,"l":2.35,"c":2.36,"v":720},{"n":454,"o":2.36,"h":2.39,"l":2.25,"c":2.295,"v":1140},{"n":455,"o":2.295,"h":2.33,"l":2.28,"c":2.315,"v":480},{"n":456,"o":2.315,"h":2.33,"l":2.29,"c":2.305,"v":300},{"n":457,"o":2.305,"h":2.39,"l":2.3,"c":2.38,"v":450},{"n":458,"o":2.38,"h":2.43,"l":2.36,"c":2.385,"v":360},{"n":459,"o":2.385,"h":2.43,"l":2.37,"c":2.42,"v":300},{"n":460,"o":2.42,"h":2.44,"l":2.37,"c":2.38,"v":420},{"n":461,"o":2.38,"h":2.41,"l":2.36,"c":2.375,"v":240},{"n":462,"o":2.375,"h":2.39,"l":2.36,"c":2.38,"v":180},{"n":463,"o":2.375,"h":2.39,"l":2.35,"c":2.365,"v":270},{"n":464,"o":2.365,"h":2.38,"l":2.36,"c":2.372,"v":150},{"n":465,"o":2.372,"h":2.4,"l":2.36,"c":2.382,"v":210},{"n":466,"o":2.382,"h":2.4,"l":2.37,"c":2.395,"v":240},{"n":467,"o":2.395,"h":2.44,"l":2.38,"c":2.418,"v":300},{"n":468,"o":2.415,"h":2.42,"l":2.37,"c":2.385,"v":330},{"n":469,"o":2.385,"h":2.4,"l":2.37,"c":2.38,"v":180},{"n":470,"o":2.385,"h":2.4,"l":2.36,"c":2.38,"v":210},{"n":471,"o":2.38,"h":2.41,"l":2.37,"c":2.392,"v":240},{"n":472,"o":2.392,"h":2.42,"l":2.37,"c":2.385,"v":210},{"n":473,"o":2.385,"h":2.39,"l":2.35,"c":2.358,"v":270},{"n":474,"o":2.358,"h":2.37,"l":2.34,"c":2.355,"v":180},{"n":475,"o":2.358,"h":2.37,"l":2.34,"c":2.355,"v":150},{"n":476,"o":2.355,"h":2.42,"l":2.35,"c":2.408,"v":540},{"n":477,"o":2.408,"h":2.42,"l":2.39,"c":2.41,"v":300},{"n":478,"o":2.4,"h":2.45,"l":2.39,"c":2.44,"v":390},{"n":479,"o":2.44,"h":2.44,"l":2.38,"c":2.4,"v":300},{"n":480,"o":2.405,"h":2.41,"l":2.38,"c":2.397,"v":210},{"n":481,"o":2.4,"h":2.41,"l":2.34,"c":2.375,"v":270},{"n":482,"o":2.375,"h":2.39,"l":2.36,"c":2.37,"v":180},{"n":483,"o":2.375,"h":2.39,"l":2.35,"c":2.36,"v":600},{"n":484,"o":2.36,"h":2.37,"l":2.275,"c":2.308,"v":420},{"n":485,"o":2.308,"h":2.34,"l":2.29,"c":2.335,"v":270},{"n":486,"o":2.308,"h":2.35,"l":2.29,"c":2.338,"v":240},{"n":487,"o":2.338,"h":2.35,"l":2.31,"c":2.32,"v":180},{"n":488,"o":2.305,"h":2.35,"l":2.29,"c":2.335,"v":240},{"n":489,"o":2.315,"h":2.33,"l":2.29,"c":2.3,"v":210},{"n":490,"o":2.302,"h":2.31,"l":2.28,"c":2.295,"v":180},{"n":491,"o":2.295,"h":2.31,"l":2.28,"c":2.298,"v":120},{"n":492,"o":2.298,"h":2.31,"l":2.27,"c":2.275,"v":210},{"n":493,"o":2.275,"h":2.33,"l":2.27,"c":2.328,"v":270},{"n":494,"o":2.328,"h":2.34,"l":2.3,"c":2.33,"v":150},{"n":495,"o":2.298,"h":2.35,"l":2.29,"c":2.33,"v":240},{"n":496,"o":2.33,"h":2.36,"l":2.32,"c":2.332,"v":210},{"n":497,"o":2.332,"h":2.34,"l":2.32,"c":2.33,"v":120},{"n":498,"o":2.332,"h":2.34,"l":2.3,"c":2.305,"v":180},{"n":499,"o":2.305,"h":2.31,"l":2.28,"c":2.288,"v":210},{"n":500,"o":2.288,"h":2.3,"l":2.27,"c":2.285,"v":150},{"n":501,"o":2.285,"h":2.29,"l":2.25,"c":2.258,"v":270},{"n":502,"o":2.2529,"h":2.2553,"l":2.23,"c":2.2345,"v":240}],
"ema":[{"n":-2,"p":1.98},{"n":3,"p":1.96},{"n":7,"p":1.955},{"n":13,"p":1.957},{"n":17,"p":1.935},{"n":20,"p":1.95},{"n":24,"p":1.985},{"n":29,"p":2.04},{"n":32,"p":2.07},{"n":35,"p":2.14},{"n":38,"p":2.185},{"n":41,"p":2.2},{"n":43,"p":2.22},{"n":46,"p":2.22},{"n":49,"p":2.19},{"n":51,"p":2.18},{"n":55,"p":2.18},{"n":58,"p":2.22},{"n":62,"p":2.265},{"n":65,"p":2.335},{"n":68,"p":2.42},{"n":71,"p":2.5},{"n":74,"p":2.565},{"n":77,"p":2.63},{"n":80,"p":2.67},{"n":84,"p":2.7},{"n":87,"p":2.69},{"n":90,"p":2.695},{"n":93,"p":2.725},{"n":97,"p":2.735},{"n":100,"p":2.77},{"n":103,"p":2.82},{"n":108,"p":2.81},{"n":113,"p":2.815},{"n":119,"p":2.82},{"n":123,"p":2.8},{"n":128,"p":2.755},{"n":132,"p":2.772},{"n":138,"p":2.76},{"n":142,"p":2.75},{"n":147,"p":2.725},{"n":151,"p":2.73},{"n":156,"p":2.74},{"n":159,"p":2.76},{"n":160,"p":2.78},{"n":162,"p":2.755},{"n":165,"p":2.72},{"n":168,"p":2.65},{"n":174,"p":2.575},{"n":181,"p":2.555},{"n":186,"p":2.557},{"n":193,"p":2.55},{"n":197,"p":2.53},{"n":201,"p":2.545},{"n":206,"p":2.59},{"n":209,"p":2.6},{"n":213,"p":2.66},{"n":217,"p":2.665},{"n":221,"p":2.71},{"n":224,"p":2.745},{"n":228,"p":2.76},{"n":230,"p":2.76},{"n":233,"p":2.73},{"n":235,"p":2.72},{"n":238,"p":2.75},{"n":242,"p":2.76},{"n":245,"p":2.758},{"n":249,"p":2.767},{"n":252,"p":2.745},{"n":256,"p":2.738},{"n":260,"p":2.728},{"n":265,"p":2.715},{"n":268,"p":2.715},{"n":272,"p":2.71},{"n":275,"p":2.745},{"n":282,"p":2.8},{"n":287,"p":2.845},{"n":293,"p":2.86},{"n":298,"p":2.885},{"n":302,"p":2.92},{"n":303,"p":2.908},{"n":307,"p":2.895},{"n":310,"p":2.925},{"n":314,"p":2.958},{"n":318,"p":2.972},{"n":323,"p":2.962},{"n":331,"p":2.945},{"n":335,"p":2.92},{"n":342,"p":2.912},{"n":348,"p":2.902},{"n":354,"p":2.898},{"n":357,"p":2.865},{"n":359,"p":2.82},{"n":362,"p":2.795},{"n":365,"p":2.758},{"n":370,"p":2.735},{"n":376,"p":2.695},{"n":381,"p":2.635},{"n":386,"p":2.63},{"n":390,"p":2.623},{"n":396,"p":2.635},{"n":401,"p":2.63},{"n":404,"p":2.64},{"n":410,"p":2.625},{"n":419,"p":2.622},{"n":427,"p":2.648},{"n":432,"p":2.695},{"n":435,"p":2.68},{"n":440,"p":2.65},{"n":444,"p":2.62},{"n":449,"p":2.57},{"n":452,"p":2.545},{"n":456,"p":2.47},{"n":462,"p":2.43},{"n":467,"p":2.413},{"n":473,"p":2.4},{"n":478,"p":2.393},{"n":484,"p":2.375},{"n":490,"p":2.345},{"n":494,"p":2.335},{"n":498,"p":2.332},{"n":502,"p":2.3061}],
"ma":[{"n":-2,"p":1.92},{"n":3,"p":1.945},{"n":7,"p":1.97},{"n":11,"p":1.985},{"n":13,"p":1.99},{"n":18,"p":1.98},{"n":25,"p":1.985},{"n":32,"p":1.99},{"n":35,"p":2.015},{"n":39,"p":2.04},{"n":46,"p":2.08},{"n":53,"p":2.105},{"n":58,"p":2.14},{"n":63,"p":2.18},{"n":66,"p":2.215},{"n":70,"p":2.275},{"n":74,"p":2.33},{"n":79,"p":2.39},{"n":82,"p":2.44},{"n":88,"p":2.48},{"n":92,"p":2.53},{"n":98,"p":2.61},{"n":102,"p":2.68},{"n":106,"p":2.72},{"n":111,"p":2.765},{"n":117,"p":2.795},{"n":122,"p":2.8},{"n":128,"p":2.787},{"n":132,"p":2.785},{"n":138,"p":2.793},{"n":143,"p":2.788},{"n":149,"p":2.778},{"n":153,"p":2.76},{"n":160,"p":2.76},{"n":164,"p":2.748},{"n":169,"p":2.715},{"n":175,"p":2.685},{"n":177,"p":2.68},{"n":182,"p":2.653},{"n":192,"p":2.617},{"n":201,"p":2.585},{"n":206,"p":2.575},{"n":210,"p":2.56},{"n":217,"p":2.58},{"n":223,"p":2.625},{"n":230,"p":2.657},{"n":236,"p":2.68},{"n":244,"p":2.715},{"n":250,"p":2.742},{"n":259,"p":2.752},{"n":268,"p":2.747},{"n":274,"p":2.737},{"n":278,"p":2.742},{"n":285,"p":2.77},{"n":293,"p":2.78},{"n":299,"p":2.798},{"n":302,"p":2.82},{"n":308,"p":2.835},{"n":314,"p":2.885},{"n":320,"p":2.915},{"n":326,"p":2.933},{"n":337,"p":2.933},{"n":348,"p":2.935},{"n":352,"p":2.927},{"n":356,"p":2.928},{"n":361,"p":2.89},{"n":367,"p":2.855},{"n":374,"p":2.815},{"n":381,"p":2.77},{"n":385,"p":2.75},{"n":394,"p":2.7},{"n":404,"p":2.645},{"n":411,"p":2.635},{"n":419,"p":2.622},{"n":427,"p":2.627},{"n":432,"p":2.647},{"n":444,"p":2.645},{"n":452,"p":2.617},{"n":456,"p":2.585},{"n":462,"p":2.56},{"n":470,"p":2.525},{"n":478,"p":2.483},{"n":484,"p":2.435},{"n":493,"p":2.382},{"n":502,"p":2.345}],
"rsi":[{"n":-2,"r":56.5},{"n":-1,"r":53.2},{"n":0,"r":45.7},{"n":2,"r":47.9},{"n":3,"r":46.2},{"n":6,"r":49},{"n":7,"r":46.8},{"n":8,"r":48.6},{"n":9,"r":52},{"n":11,"r":49.4},{"n":12,"r":52.6},{"n":14,"r":48.5},{"n":15,"r":43.4},{"n":16,"r":45.4},{"n":17,"r":44},{"n":18,"r":46.2},{"n":19,"r":50.4},{"n":20,"r":58.4},{"n":22,"r":65.9},{"n":23,"r":67.6},{"n":24,"r":68.1},{"n":25,"r":66.2},{"n":26,"r":67.8},{"n":27,"r":64.8},{"n":28,"r":64.9},{"n":29,"r":60.7},{"n":30,"r":64},{"n":31,"r":66.3},{"n":32,"r":65.6},{"n":33,"r":78},{"n":34,"r":76.8},{"n":36,"r":78.8},{"n":37,"r":72.6},{"n":38,"r":72.2},{"n":39,"r":62.6},{"n":40,"r":63.3},{"n":41,"r":61.4},{"n":42,"r":69.2},{"n":43,"r":67.8},{"n":44,"r":50.4},{"n":45,"r":56.5},{"n":46,"r":41.7},{"n":47,"r":46.2},{"n":49,"r":47.9},{"n":50,"r":44.8},{"n":51,"r":48.1},{"n":52,"r":52.1},{"n":53,"r":48.5},{"n":54,"r":51.8},{"n":55,"r":55.8},{"n":56,"r":55.4},{"n":57,"r":61.7},{"n":58,"r":59},{"n":59,"r":61.2},{"n":60,"r":62.1},{"n":61,"r":61.5},{"n":62,"r":63.8},{"n":63,"r":70.6},{"n":64,"r":71},{"n":65,"r":70.1},{"n":66,"r":76.2},{"n":67,"r":77.9},{"n":68,"r":75},{"n":69,"r":78.3},{"n":71,"r":73.8},{"n":72,"r":69.9},{"n":73,"r":72},{"n":74,"r":70.8},{"n":75,"r":75.2},{"n":77,"r":76.8},{"n":78,"r":69.6},{"n":79,"r":66.3},{"n":80,"r":69.9},{"n":81,"r":59.8},{"n":82,"r":61.5},{"n":83,"r":60.7},{"n":84,"r":60.9},{"n":85,"r":53.7},{"n":86,"r":52.3},{"n":87,"r":44.1},{"n":88,"r":53.2},{"n":89,"r":56.2},{"n":90,"r":55.6},{"n":91,"r":59.1},{"n":92,"r":59.1},{"n":93,"r":57.9},{"n":94,"r":55.4},{"n":95,"r":54.6},{"n":96,"r":57.4},{"n":98,"r":59},{"n":99,"r":62.1},{"n":100,"r":71.2},{"n":101,"r":65.9},{"n":102,"r":70.6},{"n":104,"r":50.9},{"n":105,"r":50.2},{"n":106,"r":51.4},{"n":107,"r":47.6},{"n":108,"r":49.9},{"n":109,"r":57.6},{"n":110,"r":56},{"n":111,"r":50.7},{"n":112,"r":48.7},{"n":114,"r":50.4},{"n":115,"r":48.7},{"n":116,"r":51.8},{"n":117,"r":52.9},{"n":118,"r":52.6},{"n":120,"r":53.1},{"n":121,"r":47.6},{"n":122,"r":49.5},{"n":123,"r":41.1},{"n":124,"r":41.3},{"n":125,"r":44},{"n":126,"r":37.8},{"n":127,"r":36.4},{"n":128,"r":36.8},{"n":129,"r":56},{"n":130,"r":50.7},{"n":131,"r":50.9},{"n":132,"r":52.1},{"n":133,"r":51.4},{"n":134,"r":46.2},{"n":135,"r":45.3},{"n":136,"r":48.7},{"n":137,"r":48.7},{"n":138,"r":46.9},{"n":139,"r":51.6},{"n":140,"r":52.2},{"n":141,"r":47.3},{"n":142,"r":45.3},{"n":143,"r":39.6},{"n":144,"r":44.7},{"n":145,"r":43.7},{"n":146,"r":43.9},{"n":147,"r":42.7},{"n":148,"r":51.8},{"n":149,"r":48.4},{"n":150,"r":52.9},{"n":151,"r":51.1},{"n":152,"r":48.3},{"n":153,"r":47.6},{"n":154,"r":53.4},{"n":155,"r":51.8},{"n":156,"r":54.2},{"n":157,"r":53.2},{"n":158,"r":57.9},{"n":159,"r":67},{"n":160,"r":62.6},{"n":161,"r":54.2},{"n":162,"r":35.4},{"n":163,"r":42.9},{"n":164,"r":43.4},{"n":165,"r":40.8},{"n":166,"r":35.4},{"n":167,"r":39.8},{"n":168,"r":39.4},{"n":169,"r":35.9},{"n":170,"r":37.6},{"n":171,"r":36.6},{"n":172,"r":37.5},{"n":173,"r":34.7},{"n":174,"r":39.6},{"n":175,"r":41},{"n":176,"r":46.9},{"n":177,"r":47.7},{"n":178,"r":44.8},{"n":179,"r":43.2},{"n":180,"r":45.5},{"n":181,"r":42.9},{"n":183,"r":50.3},{"n":184,"r":48.7},{"n":185,"r":49.7},{"n":186,"r":46.9},{"n":187,"r":47},{"n":188,"r":49.6},{"n":190,"r":47.8},{"n":191,"r":47.1},{"n":192,"r":43.6},{"n":193,"r":47.5},{"n":194,"r":45.3},{"n":195,"r":41.5},{"n":196,"r":40.1},{"n":197,"r":42},{"n":198,"r":50.3},{"n":199,"r":48.1},{"n":200,"r":49.9},{"n":202,"r":60},{"n":203,"r":60.2},{"n":204,"r":61.2},{"n":205,"r":65.5},{"n":206,"r":61.8},{"n":207,"r":62.4},{"n":209,"r":55.8},{"n":210,"r":66.5},{"n":211,"r":67.3},{"n":212,"r":67.5},{"n":213,"r":67},{"n":214,"r":69.8},{"n":215,"r":67.8},{"n":216,"r":52},{"n":217,"r":56.2},{"n":218,"r":58.4},{"n":219,"r":63.4},{"n":220,"r":64.9},{"n":221,"r":69.1},{"n":223,"r":70.8},{"n":224,"r":68.2},{"n":225,"r":53.7},{"n":226,"r":58.6},{"n":227,"r":60.9},{"n":229,"r":54.8},{"n":230,"r":53.4},{"n":231,"r":42.2},{"n":232,"r":43.4},{"n":233,"r":40.6},{"n":234,"r":39.4},{"n":235,"r":48.8},{"n":236,"r":54.6},{"n":237,"r":60.1},{"n":238,"r":57.9},{"n":239,"r":56.5},{"n":240,"r":57.8},{"n":241,"r":55.6},{"n":242,"r":55},{"n":243,"r":51.4},{"n":244,"r":50.1},{"n":245,"r":51.4},{"n":246,"r":56},{"n":247,"r":56.3},{"n":248,"r":51.3},{"n":249,"r":48.4},{"n":250,"r":49.2},{"n":251,"r":37},{"n":252,"r":45.3},{"n":253,"r":48.1},{"n":254,"r":45.4},{"n":255,"r":45.3},{"n":256,"r":48.5},{"n":258,"r":50.8},{"n":259,"r":48.5},{"n":261,"r":41.3},{"n":262,"r":40.6},{"n":263,"r":46.2},{"n":265,"r":44.8},{"n":266,"r":50.9},{"n":267,"r":49.9},{"n":269,"r":48.4},{"n":270,"r":45},{"n":271,"r":45.2},{"n":272,"r":49.5},{"n":273,"r":59.1},{"n":274,"r":58.8},{"n":275,"r":66.8},{"n":276,"r":67.9},{"n":277,"r":69.8},{"n":278,"r":65.5},{"n":279,"r":67},{"n":281,"r":69.1},{"n":282,"r":65.8},{"n":283,"r":67.3},{"n":284,"r":73.3},{"n":285,"r":71},{"n":286,"r":71.1},{"n":287,"r":71.7},{"n":288,"r":55.4},{"n":290,"r":67.3},{"n":291,"r":52.3},{"n":292,"r":54.2},{"n":293,"r":46.2},{"n":294,"r":55.1},{"n":295,"r":57.2},{"n":296,"r":55},{"n":297,"r":57.4},{"n":298,"r":55.1},{"n":299,"r":61.2},{"n":300,"r":63.3},{"n":301,"r":64},{"n":302,"r":68.9},{"n":303,"r":44.7},{"n":304,"r":49.5},{"n":305,"r":50.3},{"n":306,"r":46.9},{"n":307,"r":48.5},{"n":308,"r":51.8},{"n":309,"r":52.9},{"n":310,"r":60.7},{"n":311,"r":61.2},{"n":312,"r":62.5},{"n":314,"r":54.8},{"n":315,"r":59.3},{"n":316,"r":54.6},{"n":317,"r":54.4},{"n":318,"r":52.6},{"n":319,"r":55.4},{"n":320,"r":51.8},{"n":321,"r":50.6},{"n":322,"r":50.7},{"n":323,"r":47.6},{"n":325,"r":46.9},{"n":326,"r":50.4},{"n":327,"r":49.5},{"n":328,"r":45.4},{"n":330,"r":47.6},{"n":331,"r":47.8},{"n":332,"r":38.2},{"n":333,"r":35.9},{"n":334,"r":44.3},{"n":335,"r":44.7},{"n":336,"r":43.4},{"n":338,"r":52.8},{"n":340,"r":49},{"n":341,"r":52.9},{"n":342,"r":47.3},{"n":343,"r":46.2},{"n":344,"r":47.1},{"n":345,"r":46},{"n":347,"r":47.8},{"n":349,"r":42.2},{"n":350,"r":45.3},{"n":351,"r":49.2},{"n":352,"r":46.7},{"n":353,"r":50},{"n":354,"r":44.8},{"n":355,"r":43.2},{"n":356,"r":27},{"n":357,"r":21.4},{"n":358,"r":20.7},{"n":359,"r":31.2},{"n":360,"r":38.3},{"n":361,"r":42},{"n":362,"r":35.5},{"n":363,"r":34.6},{"n":364,"r":35.4},{"n":365,"r":35.1},{"n":366,"r":42.7},{"n":367,"r":39.9},{"n":368,"r":42.2},{"n":369,"r":40.8},{"n":370,"r":42.2},{"n":371,"r":41.3},{"n":372,"r":38.5},{"n":373,"r":38.9},{"n":374,"r":36.6},{"n":375,"r":35.4},{"n":376,"r":32},{"n":377,"r":28.4},{"n":378,"r":25.1},{"n":379,"r":25.6},{"n":380,"r":33.1},{"n":381,"r":48.8},{"n":382,"r":46.2},{"n":383,"r":48.4},{"n":384,"r":48.8},{"n":386,"r":41.8},{"n":387,"r":42.9},{"n":388,"r":45.4},{"n":389,"r":43.2},{"n":390,"r":50.9},{"n":391,"r":50.6},{"n":392,"r":47.1},{"n":393,"r":41.5},{"n":394,"r":54.4},{"n":396,"r":50.7},{"n":397,"r":49.5},{"n":399,"r":44},{"n":400,"r":53},{"n":401,"r":50.1},{"n":402,"r":49},{"n":403,"r":54.8},{"n":404,"r":55.9},{"n":405,"r":49.2},{"n":406,"r":48},{"n":407,"r":51.2},{"n":408,"r":48.3},{"n":409,"r":48.3},{"n":410,"r":41.7},{"n":411,"r":44.8},{"n":412,"r":48},{"n":413,"r":46.9},{"n":414,"r":46.9},{"n":415,"r":49.9},{"n":417,"r":47.1},{"n":418,"r":44.8},{"n":419,"r":53.9},{"n":420,"r":53.4},{"n":421,"r":54.2},{"n":422,"r":57},{"n":423,"r":56.8},{"n":424,"r":58.1},{"n":425,"r":54.4},{"n":426,"r":54.9},{"n":427,"r":55.1},{"n":428,"r":70.8},{"n":429,"r":67.6},{"n":430,"r":68.2},{"n":432,"r":72.2},{"n":433,"r":51.4},{"n":434,"r":47.6},{"n":435,"r":40.8},{"n":436,"r":45.3},{"n":437,"r":45.4},{"n":438,"r":39.8},{"n":439,"r":43.4},{"n":440,"r":46.7},{"n":441,"r":46.4},{"n":442,"r":45.1},{"n":443,"r":42.4},{"n":444,"r":38.2},{"n":445,"r":34.9},{"n":446,"r":38.5},{"n":447,"r":33.8},{"n":448,"r":36.8},{"n":449,"r":36.8},{"n":450,"r":33.8},{"n":451,"r":37.9},{"n":452,"r":36.8},{"n":453,"r":28.8},{"n":454,"r":24.9},{"n":455,"r":28.2},{"n":456,"r":27.9},{"n":457,"r":37.8},{"n":458,"r":39.2},{"n":459,"r":42.9},{"n":460,"r":39.6},{"n":461,"r":38.9},{"n":462,"r":39.1},{"n":463,"r":38.3},{"n":464,"r":39.6},{"n":465,"r":41},{"n":466,"r":42.9},{"n":467,"r":46.4},{"n":468,"r":42.4},{"n":469,"r":41.9},{"n":470,"r":43.4},{"n":471,"r":44},{"n":472,"r":42.9},{"n":473,"r":39.4},{"n":475,"r":38.7},{"n":476,"r":48.5},{"n":477,"r":55.3},{"n":478,"r":47.9},{"n":479,"r":48.4},{"n":480,"r":47.9},{"n":481,"r":43.9},{"n":482,"r":42},{"n":483,"r":34.9},{"n":484,"r":37.3},{"n":485,"r":41},{"n":486,"r":37.3},{"n":487,"r":41.7},{"n":488,"r":39.2},{"n":489,"r":37.6},{"n":490,"r":36.8},{"n":491,"r":34.9},{"n":492,"r":39.6},{"n":493,"r":45.9},{"n":494,"r":43.2},{"n":495,"r":46.4},{"n":496,"r":47.1},{"n":497,"r":47.5},{"n":498,"r":42.4},{"n":499,"r":39.4},{"n":500,"r":39},{"n":501,"r":34.5},{"n":502,"r":31.82}],
"tags":[{"k":"MA","a":512.5,"b":536.5,"p1":2.364,"p2":2.319},{"k":"EMA","a":510.8,"b":536.5,"p1":2.319,"p2":2.273},{"k":"Last","a":521.2,"b":536.5,"p1":2.2554,"p2":2.2101},{"k":"Count","a":521.2,"b":538.4,"p1":2.207,"p2":2.162},{"k":"Low","a":521.2,"b":536.5,"p1":2.159,"p2":2.117},{"k":"Vol","a":505.9,"b":540.2,"p1":1.797,"p2":1.7637}],
"tagText":[{"t":"MA","n":517.1,"p":2.3413},{"t":"2.3450","n":528.8,"p":2.3413},{"t":"EMA","n":516.1,"p":2.2963},{"t":"2.3061","n":528.8,"p":2.2963},{"t":"2.2345","n":528.8,"p":2.2327},{"t":"03:56:52","n":529.2,"p":2.1845},{"t":"2.2131","n":528.8,"p":2.138},{"t":"Volume","n":513.6,"p":1.7803},{"t":"261.037K","n":530,"p":1.7803}],
"head":[{"t":"ranadagger1","n":-2.15,"p":3.287,"s":"b"},{"t":"published on TradingView.com, July 05, 2020 16:03:14 UTC","n":21.7,"p":3.287,"s":"r"},{"t":"BINANCE:XTZUSDT, 240","n":-2.15,"p":3.2418,"s":"b"},{"t":"2.2345","n":41.4,"p":3.2418,"s":"r"},{"t":"▼","n":54.4,"p":3.2418,"s":"x"},{"t":"−0.0949 (−4.07%)","n":58.5,"p":3.2418,"s":"r"},{"t":"O:","n":90.1,"p":3.2418,"s":"b"},{"t":"2.2529","n":93.6,"p":3.2418,"s":"x"},{"t":"H:","n":107.2,"p":3.2418,"s":"b"},{"t":"2.2553","n":111.6,"p":3.2418,"s":"x"},{"t":"L:","n":124.5,"p":3.2418,"s":"b"},{"t":"2.2300","n":129.3,"p":3.2418,"s":"x"},{"t":"C:","n":142.5,"p":3.2418,"s":"b"},{"t":"2.2345","n":147,"p":3.2418,"s":"x"}],
"legend":[{"t":"Vol","n":0.5,"p":3.112},{"t":"MA (50, close, 0)","n":0.5,"p":3.064},{"t":"EMA (20, close, 0)","n":0.5,"p":3.0186}]
},
"vconcat":[
{"width":1537,"height":478,
"resolve":{"scale":{"y":"independent"}},
"layer":[
{"data":{"name":"c"},"mark":{"type":"bar","size":2,"opacity":0.75},"encoding":{"x":{"field":"n","type":"quantitative","scale":{"domain":[-2.15,521.2],"nice":false,"zero":false},"title":null,"axis":{"values":[0,42,84,108,132,168,210,252,294,336,378,420,444,474,504],"labels":false,"ticks":false,"domain":false,"grid":true,"gridColor":"#e9e9e9","gridWidth":1.2,"tickCount":40}},"y":{"field":"v","type":"quantitative","scale":{"domain":[0,14340],"nice":false},"axis":null},"color":{"condition":{"test":"datum.c>=datum.o","value":"#cfe6d6"},"value":"#efd9d9"}}},
{"layer":[
{"data":{"values":[{"p":2.2345}]},"mark":{"type":"rule","color":"#f0908a","strokeDash":[1,2],"strokeWidth":1},"encoding":{"y":{"field":"p","type":"quantitative","title":null,"scale":{"domain":[1.7638,3.2056],"nice":false,"zero":false},"axis":{"orient":"right","values":[1.8,1.9,2.0,2.1,2.2,2.3,2.4,2.5,2.6,2.7,2.8,2.9,3.0,3.1,3.2],"tickCount":40,"format":".4f","grid":true,"gridColor":"#e9e9e9","gridWidth":1.2,"domain":false,"tickColor":"#888","tickSize":4,"labelColor":"#666","labelFontSize":10,"labelPadding":4,"labelOverlap":false,"labelBound":false,"labelFlush":false}}}},
{"data":{"values":[{"a":59.8,"b":521.2,"p":2.2131}]},"mark":{"type":"rule","color":"#0000ff","strokeDash":[1.5,4],"strokeWidth":1.4},"encoding":{"x":{"field":"a","type":"quantitative"},"x2":{"field":"b"},"y":{"field":"p","type":"quantitative"}}},
{"data":{"name":"c"},"mark":{"type":"rule","color":"#8a8a8a","strokeWidth":1,"opacity":0.75},"encoding":{"x":{"field":"n","type":"quantitative"},"y":{"field":"l","type":"quantitative"},"y2":{"field":"h"}}},
{"data":{"name":"c"},"mark":{"type":"bar","size":1.9,"strokeWidth":0.6},"encoding":{"x":{"field":"n","type":"quantitative"},"y":{"field":"o","type":"quantitative"},"y2":{"field":"c"},"color":{"condition":{"test":"datum.c>=datum.o","value":"#4d8f6b"},"value":"#a6200f"},"stroke":{"condition":{"test":"datum.c>=datum.o","value":"#0b5a2b"},"value":"#6e1208"}}},
{"data":{"name":"ma"},"mark":{"type":"line","color":"#ff6a5e","strokeWidth":1.2},"encoding":{"x":{"field":"n","type":"quantitative"},"y":{"field":"p","type":"quantitative"}}},
{"data":{"name":"ema"},"mark":{"type":"line","color":"#4aa8f5","strokeWidth":1.2},"encoding":{"x":{"field":"n","type":"quantitative"},"y":{"field":"p","type":"quantitative"}}},
{"data":{"values":[{"n":98.8,"p":2.9854}]},"mark":{"type":"point","filled":true,"shape":"M-1,0C-1,-0.252,-0.552,-0.456,0,-0.456C0.552,-0.456,1,-0.252,1,0C1,0.252,0.552,0.456,0,0.456C-0.552,0.456,-1,0.252,-1,0Z","size":24964,"fill":"#e91e63","fillOpacity":0.2,"stroke":"#e91e63","strokeWidth":1.3,"strokeOpacity":0.9},"encoding":{"x":{"field":"n","type":"quantitative"},"y":{"field":"p","type":"quantitative"}}},
{"data":{"values":[{"n":305.5,"p":3.0306}]},"mark":{"type":"point","filled":true,"shape":"M-1,0C-1,-0.278,-0.552,-0.5035,0,-0.5035C0.552,-0.5035,1,-0.278,1,0C1,0.278,0.552,0.5035,0,0.5035C-0.552,0.5035,-1,0.278,-1,0Z","size":19881,"fill":"#e91e63","fillOpacity":0.2,"stroke":"#e91e63","strokeWidth":1.3,"strokeOpacity":0.9},"encoding":{"x":{"field":"n","type":"quantitative"},"y":{"field":"p","type":"quantitative"}}},
{"data":{"name":"tags"},"mark":{"type":"rect"},"encoding":{"x":{"field":"a","type":"quantitative"},"x2":{"field":"b"},"y":{"field":"p1","type":"quantitative"},"y2":{"field":"p2"},"color":{"field":"k","type":"nominal","legend":null,"scale":{"domain":["MA","EMA","Last","Count","Low","Vol"],"range":["#f2382f","#2196f3","#d4553f","#d4553f","#0000ff","#8b1a1a"]}}}},
{"data":{"name":"tagText"},"mark":{"type":"text","color":"white","fontWeight":"bold","fontSize":10,"align":"center","baseline":"middle"},"encoding":{"x":{"field":"n","type":"quantitative"},"y":{"field":"p","type":"quantitative"},"text":{"field":"t"}}},
{"data":{"name":"head"},"transform":[{"filter":"datum.s=='b'"}],"mark":{"type":"text","color":"#2a2a2a","fontWeight":"bold","fontSize":11,"align":"left","baseline":"middle"},"encoding":{"x":{"field":"n","type":"quantitative"},"y":{"field":"p","type":"quantitative"},"text":{"field":"t"}}},
{"data":{"name":"head"},"transform":[{"filter":"datum.s=='r'"}],"mark":{"type":"text","color":"#3a3a3a","fontSize":11,"align":"left","baseline":"middle"},"encoding":{"x":{"field":"n","type":"quantitative"},"y":{"field":"p","type":"quantitative"},"text":{"field":"t"}}},
{"data":{"name":"head"},"transform":[{"filter":"datum.s=='x'"}],"mark":{"type":"text","color":"#f0544a","fontSize":11,"align":"left","baseline":"middle"},"encoding":{"x":{"field":"n","type":"quantitative"},"y":{"field":"p","type":"quantitative"},"text":{"field":"t"}}},
{"data":{"values":[{"t":"Tezos / TetherUS, 4h, BINANCE","n":0.5,"p":3.157}]},"mark":{"type":"text","color":"#5a5a5a","fontWeight":"bold","fontSize":11,"align":"left","baseline":"middle"},"encoding":{"x":{"field":"n","type":"quantitative"},"y":{"field":"p","type":"quantitative"},"text":{"field":"t"}}},
{"data":{"name":"legend"},"mark":{"type":"text","color":"#888888","fontSize":11,"align":"left","baseline":"middle"},"encoding":{"x":{"field":"n","type":"quantitative"},"y":{"field":"p","type":"quantitative"},"text":{"field":"t"}}}
]}
]},
{"width":1537,"height":232,
"layer":[
{"data":{"values":[{"a":30,"b":70}]},"mark":{"type":"rect","color":"#f4e6fd"},"encoding":{"y":{"field":"a","type":"quantitative","title":null,"scale":{"domain":[17.37,82.24],"nice":false,"zero":false},"axis":{"orient":"right","values":[20,30,40,50,60,70,80],"tickCount":40,"format":".2f","grid":true,"gridColor":"#e6e0ea","gridWidth":1.2,"domain":false,"tickColor":"#888","tickSize":4,"labelColor":"#666","labelFontSize":10,"labelPadding":4,"labelOverlap":false,"labelBound":false,"labelFlush":false}},"y2":{"field":"b"}}},
{"data":{"values":[{"r":30},{"r":70}]},"mark":{"type":"rule","color":"#a08aa8","strokeDash":[4,3],"strokeWidth":1},"encoding":{"y":{"field":"r","type":"quantitative"}}},
{"data":{"name":"rsi"},"mark":{"type":"line","color":"#9c27b0","strokeWidth":1.2},"encoding":{"x":{"field":"n","type":"quantitative","title":null,"scale":{"domain":[-2.15,521.2],"nice":false,"zero":false},"axis":{"values":[0,42,84,108,132,168,210,252,294,336,378,420,444,474,504],"tickCount":40,"labelExpr":"['13','20','27','May','5','11','18','25','Jun','8','15','22','26','Jul','6'][indexof([0,42,84,108,132,168,210,252,294,336,378,420,444,474,504],datum.value)]","grid":true,"gridColor":"#e9e9e9","gridWidth":1.2,"domainColor":"#888","tickColor":"#888","tickSize":4,"labelColor":"#666","labelFontSize":10.5,"labelPadding":6,"labelOverlap":false,"labelFlush":false}},"y":{"field":"r","type":"quantitative"}}},
{"data":{"values":[{"r":82.24}]},"mark":{"type":"rule","color":"#333333","strokeWidth":1},"encoding":{"y":{"field":"r","type":"quantitative"}}},
{"data":{"values":[{"r":10.65}]},"mark":{"type":"rule","color":"#8a8a8a","strokeWidth":1.2,"clip":false},"encoding":{"y":{"field":"r","type":"quantitative"}}},
{"data":{"values":[{"a":521.2,"b":10.65,"c":17.37}]},"mark":{"type":"rule","color":"#a0a0a0","strokeWidth":1},"encoding":{"x":{"field":"a","type":"quantitative"},"y":{"field":"b","type":"quantitative"},"y2":{"field":"c"}}},
{"data":{"values":[{"a":512.3,"b":534.7,"p1":33.3,"p2":29.3}]},"mark":{"type":"rect","color":"#8e1599"},"encoding":{"x":{"field":"a","type":"quantitative"},"x2":{"field":"b"},"y":{"field":"p1","type":"quantitative"},"y2":{"field":"p2"}}},
{"data":{"values":[{"t":"RSI","n":516.8,"r":31.3},{"t":"31.82","n":527.7,"r":31.3}]},"mark":{"type":"text","color":"white","fontWeight":"bold","fontSize":10,"align":"center","baseline":"middle"},"encoding":{"x":{"field":"n","type":"quantitative"},"y":{"field":"r","type":"quantitative"},"text":{"field":"t"}}},
{"data":{"values":[{"t":"RSI (14, close)","n":0.5,"r":77.8}]},"mark":{"type":"text","color":"#777777","fontSize":11,"align":"left","baseline":"middle"},"encoding":{"x":{"field":"n","type":"quantitative"},"y":{"field":"r","type":"quantitative"},"text":{"field":"t"}}},
{"data":{"values":[{"n":5,"r":23.1}]},"mark":{"type":"point","shape":"circle","filled":true,"size":660,"fill":"white","stroke":"#e3e3e3","strokeWidth":1,"opacity":1},"encoding":{"x":{"field":"n","type":"quantitative"},"y":{"field":"r","type":"quantitative"}}},
{"data":{"values":[{"n":5,"r":23.1}]},"mark":{"type":"point","shape":"M-1,0.7C-1,0.2,-0.6,0,-0.4,-0.1C-0.3,-0.5,0,-0.7,0.2,-0.5C0.5,-0.6,0.8,-0.2,0.7,0C1,0.1,1,0.7,0.6,0.7L0.35,0.7L0.55,0.35L0.2,-0.05L-0.1,0.4L-0.4,0.1L-0.7,0.7Z","filled":true,"size":361,"fill":"#2196f3","opacity":1},"encoding":{"x":{"field":"n","type":"quantitative"},"y":{"field":"r","type":"quantitative"}}},
{"data":{"values":[{"n":1.6,"r":6.1}]},"mark":{"type":"point","shape":"M-1,0.7C-1,0.2,-0.6,0,-0.4,-0.1C-0.3,-0.5,0,-0.7,0.2,-0.5C0.5,-0.6,0.8,-0.2,0.7,0C1,0.1,1,0.7,0.6,0.7L0.35,0.7L0.55,0.35L0.2,-0.05L-0.1,0.4L-0.4,0.1L-0.7,0.7Z","filled":true,"size":576,"fill":"#2196f3","opacity":1},"encoding":{"x":{"field":"n","type":"quantitative"},"y":{"field":"r","type":"quantitative"}}},
{"data":{"values":[{"t":"TradingView","n":6.4,"r":6.4}]},"mark":{"type":"text","color":"#555555","fontSize":12,"align":"left","baseline":"middle"},"encoding":{"x":{"field":"n","type":"quantitative"},"y":{"field":"r","type":"quantitative"},"text":{"field":"t"}}}
]}
]}
